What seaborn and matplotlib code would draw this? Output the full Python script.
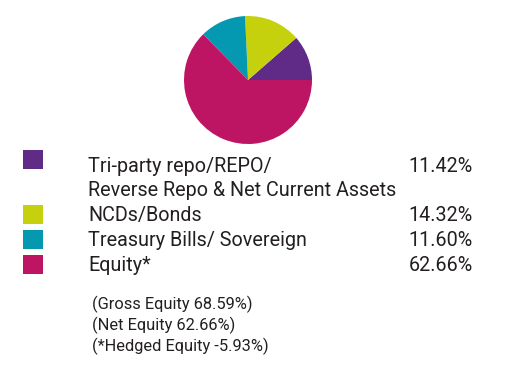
import matplotlib.pyplot as plt
import seaborn as sns

categories = ["Tri-party repo/REPO/\nReverse Repo & Net Current Assets",
              "NCDs/Bonds", "Treasury Bills/ Sovereign", "Equity*"]
values = [11.42, 14.32, 11.60, 62.66]
pct_labels = ["11.42%", "14.32%", "11.60%", "62.66%"]
notes = ["(Gross Equity 68.59%)", "(Net Equity 62.66%)", "(*Hedged Equity -5.93%)"]
colors = ["#5f2b87", "#c6d10e", "#0499b1", "#bd1463"]

sns.set_theme(style="white")
plt.rcParams['font.family'] = ['Roboto', 'DejaVu Sans']
txt = "#231f20"

fig = plt.figure(figsize=(5.13, 3.68), dpi=100)

# pie, centre around (248, 80) px, radius 64 px
ax = fig.add_axes([184 / 513, 1 - 144 / 368, 128 / 513, 128 / 368])
ax.pie(values, colors=colors, startangle=0, counterclock=True,
       wedgeprops=dict(linewidth=0))
ax.set_xlim(-1, 1)
ax.set_ylim(-1, 1)
ax.set_aspect("equal")
ax.axis("off")

# overlay in pixel coords for the legend
lg = fig.add_axes([0, 0, 1, 1])
lg.set_xlim(0, 513)
lg.set_ylim(368, 0)
lg.axis("off")

sq_top = [150, 205, 230, 255]
base = [171.5, 221, 246, 271]
for lab, pct, c, t, b in zip(categories, pct_labels, colors, sq_top, base):
    lg.add_patch(plt.Rectangle((23, t), 20, 19, color=c, lw=0))
    for i, line in enumerate(lab.split("\n")):
        lg.text(88, b + i * 25, line, fontsize=14.2, color=txt, va="baseline")
    lg.text(473, b, pct, fontsize=14.2, color=txt, va="baseline", ha="right")

for i, n in enumerate(notes):
    lg.text(92, 309.5 + i * 21, n, fontsize=11.8, color=txt, va="baseline")

fig.savefig("out.png", dpi=100)
